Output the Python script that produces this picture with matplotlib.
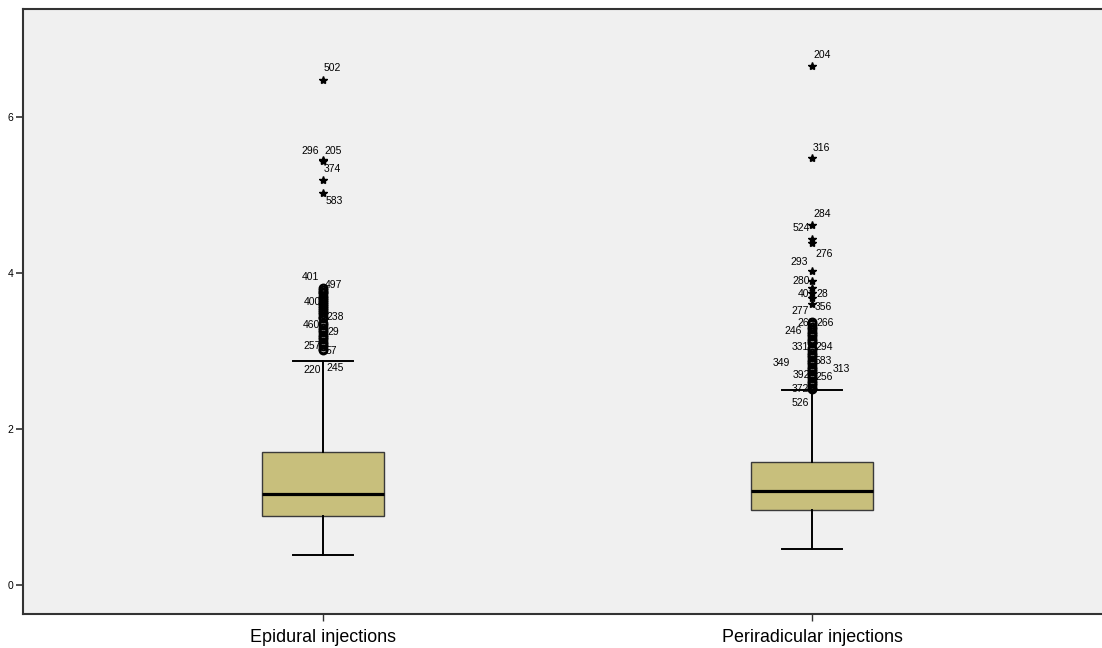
import matplotlib
matplotlib.use("Agg")
import matplotlib.pyplot as plt

plt.rcParams['font.family'] = ['Liberation Sans', 'DejaVu Sans']

groups = ["Epidural injections", "Periradicular injections"]

# box summaries
q1 = [0.89, 0.96]
med = [1.17, 1.21]
q3 = [1.70, 1.58]
whislo = [0.38, 0.46]
whishi = [2.87, 2.50]

# extreme values (stars) and their case numbers
epi_star_vals = [6.48, 5.45, 5.43, 5.19, 5.03]
epi_star_ids = ["502", "296", "205", "374", "583"]
peri_star_vals = [6.65, 5.47, 4.62, 4.44, 4.38, 4.03, 3.90, 3.81, 3.74, 3.68, 3.60]

# outliers (circles)
epi_circ_vals = [3.81, 3.78, 3.76, 3.74, 3.71, 3.68, 3.66, 3.63, 3.60, 3.58,
                 3.55, 3.52, 3.50, 3.47, 3.44, 3.42, 3.36, 3.33, 3.30, 3.27,
                 3.24, 3.21, 3.18, 3.15, 3.12, 3.09, 3.06, 3.03, 3.01]
peri_circ_vals = [3.37, 3.34, 3.31, 3.28, 3.25, 3.22, 3.19, 3.16, 3.13, 3.10,
                  3.04, 3.01, 2.98, 2.95, 2.92, 2.89, 2.86, 2.83, 2.80, 2.77,
                  2.74, 2.71, 2.68, 2.65, 2.62, 2.59, 2.56, 2.53, 2.51]

# case labels: (text, value of the marker it belongs to)
epi_labels = [("502", 6.48), ("296", 5.44), ("205", 5.44), ("374", 5.44),
              ("583", 5.03), ("401", 3.81), ("497", 3.81), ("400", 3.63),
              ("238", 3.44), ("460", 3.36), ("29", 3.27), ("257", 3.06),
              ("57", 3.01), ("220", 3.01), ("245", 3.01)]
peri_labels = [("204", 6.65), ("316", 5.47), ("284", 4.62), ("524", 4.62),
               ("276", 4.38), ("293", 4.03), ("280", 3.90), ("401", 3.74),
               ("28", 3.74), ("277", 3.60), ("356", 3.60), ("266", 3.37),
               ("263", 3.37), ("246", 3.28), ("331", 3.04), ("294", 3.04),
               ("349", 2.86), ("583", 2.86), ("313", 2.77), ("392", 2.68),
               ("256", 2.68), ("372", 2.51), ("526", 2.51)]

# where each label sits relative to its marker (pixels, +dy = down)
epi_offsets = [(1, -12, "left"), (-4, -10, "right"), (1, -10, "left"), (1, 8, "left"),
               (3, 8, "left"), (-4, -11, "right"), (2, -3, "left"), (-2, 0, "right"),
               (3, 0, "left"), (-3, 2, "right"), (4, 2, "left"), (-2, 0, "right"),
               (3, 1, "left"), (-2, 20, "right"), (3, 18, "left")]
peri_offsets = [(1, -11, "left"), (1, -10, "left"), (1, -11, "left"), (-2, 3, "right"),
                (3, 11, "left"), (-4, -9, "right"), (-2, 0, "right"), (3, 1, "right"),
                (4, 1, "left"), (-3, 7, "right"), (3, 3, "left"), (4, 1, "left"),
                (3, 1, "right"), (-10, 2, "right"), (-3, -1, "right"), (3, -1, "left"),
                (-22, 1, "right"), (3, -1, "left"), (21, 0, "left"), (-2, -1, "right"),
                (3, 1, "left"), (-3, 0, "right"), (-3, 14, "right")]

fig = plt.figure(figsize=(11.02, 6.48), dpi=100)
fig.patch.set_facecolor("white")
ax = fig.add_axes([23 / 1102, 34 / 648, 1079 / 1102, 605 / 648])
ax.set_facecolor("#f0f0f0")

stats = []
for i in range(2):
    stats.append(dict(q1=q1[i], med=med[i], q3=q3[i], whislo=whislo[i],
                      whishi=whishi[i], fliers=[], label=groups[i]))

ax.bxp(stats, positions=[1, 2], widths=0.25, capwidths=0.123, patch_artist=True,
       showfliers=False,
       boxprops=dict(facecolor="#c8bf7c", edgecolor="#3a3a3a", linewidth=1.0),
       medianprops=dict(color="black", linewidth=2.3),
       whiskerprops=dict(color="black", linewidth=1.4),
       capprops=dict(color="black", linewidth=1.4))

star_sets = [epi_star_vals, peri_star_vals]
circ_sets = [epi_circ_vals, peri_circ_vals]
for i in range(2):
    x = i + 1
    ax.plot([x] * len(circ_sets[i]), circ_sets[i], linestyle="none", marker="o",
            markersize=5.5, markerfacecolor="none", markeredgecolor="black",
            markeredgewidth=1.6, zorder=4)
    ax.plot([x] * len(star_sets[i]), star_sets[i], linestyle="none", marker="*",
            markersize=6, color="black", zorder=4)

for i, (labels, offsets) in enumerate([(epi_labels, epi_offsets), (peri_labels, peri_offsets)]):
    for (txt, val), (dx, dy, ha) in zip(labels, offsets):
        ax.annotate(txt, (i + 1, val), xytext=(dx, -dy), textcoords="offset pixels",
                    ha=ha, va="center", fontsize=7.5, color="black", zorder=3)

ax.set_xlim(0.3865, 2.593)
ax.set_ylim(-0.372, 7.385)
ax.set_yticks([0, 2, 4, 6])
ax.set_xticks([1, 2])
ax.set_xticklabels(groups, fontsize=12.9)
ax.tick_params(axis="y", labelsize=7.5, length=5, width=1.2, color="#333333", pad=2)
ax.tick_params(axis="x", length=5, width=1.0, color="#333333", pad=6)

for side in ["left", "bottom", "top"]:
    ax.spines[side].set_color("#333333")
    ax.spines[side].set_linewidth(1.5)
ax.spines["right"].set_visible(False)

fig.savefig("out.png", dpi=100)
